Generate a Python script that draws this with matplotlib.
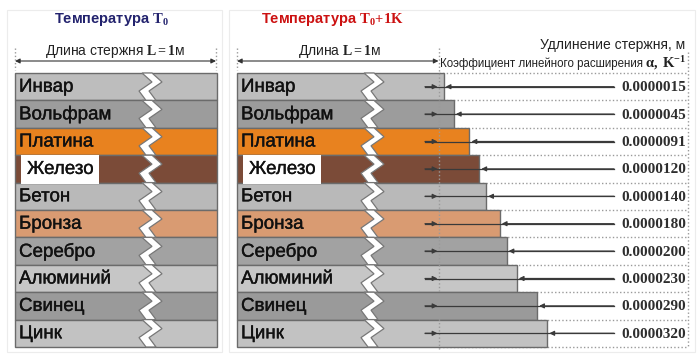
import matplotlib
matplotlib.use("Agg")
import matplotlib.pyplot as plt
import matplotlib.patheffects as pe
from matplotlib.patches import Polygon, Rectangle

plt.rcParams['font.family'] = ['Liberation Sans', 'DejaVu Sans']
plt.rcParams['mathtext.fontset'] = 'custom'
plt.rcParams['mathtext.rm'] = 'Liberation Serif'
plt.rcParams['mathtext.bf'] = 'Liberation Serif:bold'
plt.rcParams['mathtext.it'] = 'Liberation Serif:italic'

# ---- data ----
materials = ['Инвар', 'Вольфрам', 'Платина', 'Железо', 'Бетон',
             'Бронза', 'Серебро', 'Алюминий', 'Свинец', 'Цинк']
alpha_micro = [1.5, 4.5, 9.1, 12.0, 14.0, 18.0, 20.0, 23.0, 29.0, 32.0]  # x1e-6 1/K
alpha_labels = ['0.0000015', '0.0000045', '0.0000091', '0.0000120', '0.0000140',
                '0.0000180', '0.0000200', '0.0000230', '0.0000290', '0.0000320']
bar_colors = ['#bdbdbd', '#9c9c9c', '#e8821f', '#7b4b38', '#b9b9b9',
              '#d99b72', '#a2a2a2', '#c6c6c6', '#9a9a9a', '#c2c2c2']

# ---- layout (pixel space) ----
W, H = 700, 358
fig = plt.figure(figsize=(W / 100, H / 100), dpi=100)
ax = fig.add_axes([0, 0, 1, 1])
ax.set_xlim(0, W)
ax.set_ylim(H, 0)
ax.axis('off')

top = 73.0
row_h = 27.4
n = len(materials)
centers = [top + row_h * (i + 0.5) for i in range(n)]
L_left0, L_left1 = 15, 216
L_right0 = 237
L_px = L_left1 - L_left0 + 0.5
ref_x = L_right0 + L_px  # position of original end (dotted line)
scale = 3.4  # px per 1e-6 elongation (exaggerated)
right_widths = [L_px + scale * a for a in alpha_micro]
right_ends = [L_right0 + w for w in right_widths]

# faint frames around panels
for (x0, x1) in [(7, 222), (229, 695)]:
    ax.add_patch(Rectangle((x0, 10), x1 - x0, 342, fill=False, ec='#ececec', lw=0.8, zorder=0))

dot = dict(color='#9a9a9a', lw=1.0, linestyle=(0, (1, 1.6)))

# dotted guides right panel (behind bars)
right_frame = 688
for k in range(n + 1):
    ax.plot([ref_x, right_frame], [top + row_h * k] * 2, zorder=1, **dot)
ax.plot([right_frame, right_frame], [52, top + row_h * n], zorder=1, **dot)

# bars
ax.barh(centers, [L_px] * n, left=L_left0, height=row_h, color=bar_colors,
        edgecolor='#6b6b6b', linewidth=1.0, zorder=2)
ax.barh(centers, right_widths, left=L_right0, height=row_h, color=bar_colors,
        edgecolor='#6b6b6b', linewidth=1.0, zorder=2)

# zigzag break marks
def zigzag(x0, t):
    lx = [x0, x0 + 10, x0 - 3, x0 + 4]
    ly = [t, t + 9, t + 18, t + row_h]
    wdt = 10
    pts = list(zip(lx, ly)) + list(zip([x + wdt for x in lx[::-1]], ly[::-1]))
    ax.add_patch(Polygon(pts, closed=True, fc='white', ec='#777777', lw=0.9, zorder=3))

for i in range(n):
    t = top + row_h * i
    zigzag(142, t)
    zigzag(142 + (L_right0 - L_left0), t)

# vertical dotted line at original length in right panel
ax.plot([ref_x, ref_x], [48, top + row_h * n + 2], zorder=4, **dot)
# small vertical guide dots at dimension ends
for x in [L_left0, L_left1, L_right0]:
    ax.plot([x, x], [48, 70], zorder=4, **dot)

# row labels
stroke = [pe.withStroke(linewidth=0.25, foreground='#111111')]
for i, (m, c) in enumerate(zip(materials, centers)):
    for x0 in (L_left0 + 4, L_right0 + 4):
        kw = {}
        xx = x0
        if m == 'Железо':
            xx = x0 + 8
            kw['bbox'] = dict(boxstyle='square,pad=0.3', fc='white', ec='none')
        ax.text(xx, c + 0.5, m, fontsize=13.5, color='#111111', va='center', ha='left',
                zorder=5, path_effects=stroke, **kw)

# arrows in right panel
arrow_col = '#3a3a3a'
label_x = 686
line_start = 614
for i, c in enumerate(centers):
    ax.plot([425, line_start], [c, c], color=arrow_col, lw=0.9, zorder=5)
    ax.annotate('', xy=(ref_x - 1, c), xytext=(425, c),
                arrowprops=dict(arrowstyle='-|>', color=arrow_col, lw=0.9,
                                mutation_scale=7, shrinkA=0, shrinkB=0), zorder=6)
    ax.annotate('', xy=(right_ends[i] + 2, c), xytext=(line_start, c),
                arrowprops=dict(arrowstyle='-|>', color=arrow_col, lw=0.9,
                                mutation_scale=7, shrinkA=0, shrinkB=0), zorder=6)
    ax.text(label_x, c + 1, alpha_labels[i], family='Liberation Serif', fontweight='bold',
            fontsize=11, color='#2e2e2e', ha='right', va='center', zorder=6)

# dimension arrows
for (x0, x1) in [(L_left0, L_left1), (L_right0, ref_x)]:
    ax.annotate('', xy=(x0, 61), xytext=(x1, 61),
                arrowprops=dict(arrowstyle='<|-|>', color='#333333', lw=0.8,
                                mutation_scale=7, shrinkA=0, shrinkB=0))
ax.text((L_left0 + L_left1) / 2, 51, 'Длина стержня $\\mathbf{L{=}1}$м', fontsize=10,
        ha='center', va='center', color='#222222')
ax.text((L_right0 + ref_x) / 2 + 2, 51, 'Длина $\\mathbf{L{=}1}$м', fontsize=10,
        ha='center', va='center', color='#222222')

# titles
ax.text(111, 20, 'Температура $\\mathbf{T_0}$', fontsize=10.5, fontweight='bold',
        color='#23236e', ha='center', va='center')
ax.text(332, 20, 'Температура $\\mathbf{T_0{+}1K}$', fontsize=10.5, fontweight='bold',
        color='#cc1111', ha='center', va='center')

# right headers
ax.text(685, 45, 'Удлинение стержня, м', fontsize=10, color='#222222',
        ha='right', va='center')
ax.text(643, 64, 'Коэффициент линейного расширения', fontsize=8.3, color='#222222',
        ha='right', va='center')
ax.text(645, 63, '$\\mathbf{\\alpha,\\ K^{-1}}$', fontsize=10.5, color='#222222',
        ha='left', va='center')

fig.savefig('out.png', dpi=100)
